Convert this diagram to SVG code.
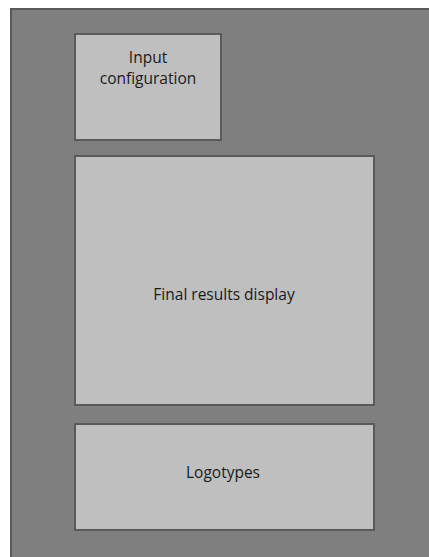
<svg xmlns="http://www.w3.org/2000/svg" width="429" height="557" viewBox="0 0 429 557">
  <style>
    .panel { fill: #bfbfbf; stroke: #5a5a5a; stroke-width: 2; }
    .label { font-family: "Open Sans", "Liberation Sans", sans-serif; font-size: 15.5px; fill: #1a1a1a; text-anchor: middle; }
  </style>
  <rect width="429" height="557" fill="#ffffff"/>
  <!-- page frame -->
  <g id="frame">
    <rect x="11" y="9" width="430" height="560" fill="#7f7f7f" stroke="#5a5a5a" stroke-width="2"/>
  </g>
  <g id="input-configuration">
    <rect class="panel" x="75" y="34" width="146" height="106"/>
    <text class="label" x="148" y="63">Input</text>
    <text class="label" x="148" y="84">configuration</text>
  </g>
  <g id="final-results-display">
    <rect class="panel" x="75" y="156" width="299" height="249"/>
    <text class="label" x="224" y="300">Final results display</text>
  </g>
  <g id="logotypes">
    <rect class="panel" x="75" y="424" width="299" height="106"/>
    <text class="label" x="223" y="478">Logotypes</text>
  </g>
  <g id="connectors"/>
</svg>
